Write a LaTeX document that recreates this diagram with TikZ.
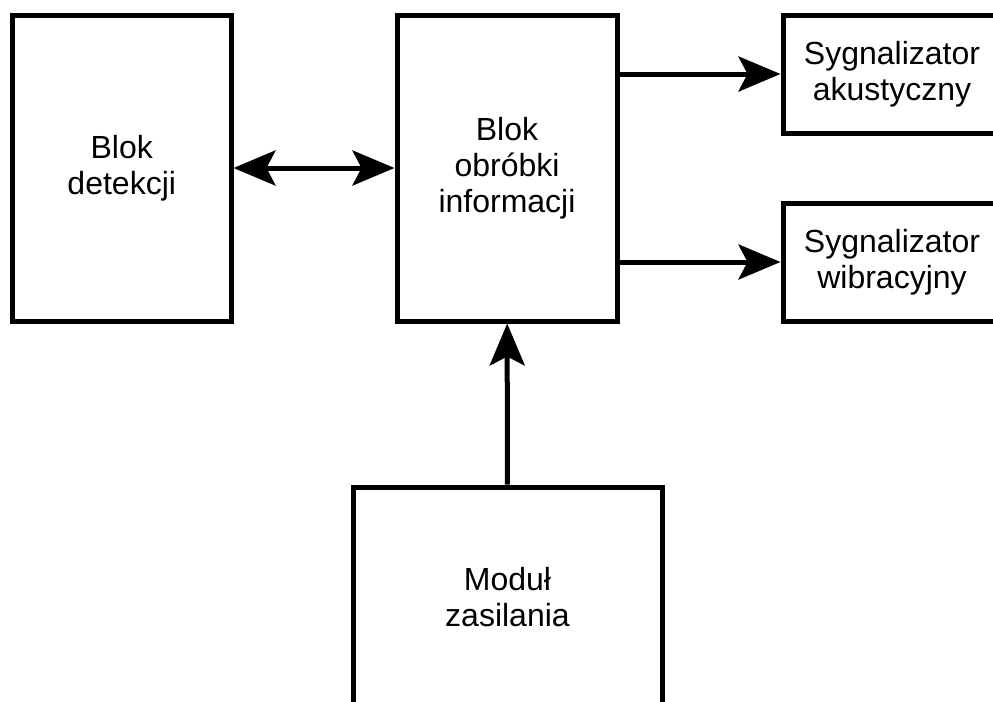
\documentclass[tikz,border=0pt]{standalone}
\usepackage{fontspec}
\setmainfont{Liberation Sans}
\usepackage{tikz}
\usetikzlibrary{arrows.meta}

\begin{document}
\begin{tikzpicture}[x=0.5pt, y=-0.5pt,
        >={Stealth[length=21pt, width=17.5pt, inset=4.5pt]},
        block/.style={draw, line width=2.5pt, rectangle, align=center,
            font=\fontsize{16pt}{18pt}\selectfont},
        link/.style={line width=2.5pt}]
            \clip (0,0) rectangle (993,702);

            \node (det) at (121.75,168) [block, minimum width=109.25pt, minimum height=153pt] {Blok\\detekcji};
            \node (obr) at (507,168) [block, minimum width=110pt, minimum height=153pt] {Blok\\obróbki\\informacji};
            \node (aku) at (892,74) [block, minimum width=109pt, minimum height=59pt] {Sygnalizator\\akustyczny};
            \node (wib) at (892,262) [block, minimum width=109pt, minimum height=59pt] {Sygnalizator\\wibracyjny};
            \node (zas) at (507.5,597.5) [block, minimum width=154.5pt, minimum height=110.5pt] {Moduł\\zasilania};

            \draw[link, <->] (det) -- (obr);
            \draw[link, ->] (aku.west -| obr.east) -- (aku.west);
            \draw[link, ->] (wib.west -| obr.east) -- (wib.west);
            \draw[link, ->] (zas) -- (obr);
        \end{tikzpicture}
\end{document}
